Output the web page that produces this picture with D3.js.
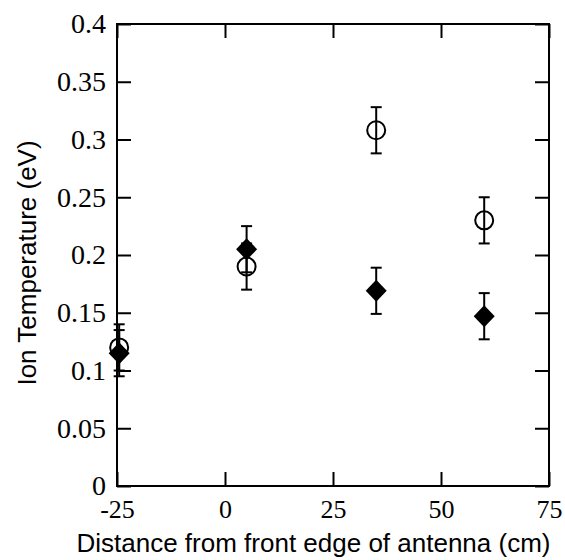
<!DOCTYPE html>
<html><head><meta charset="utf-8">
<script src="https://cdn.jsdelivr.net/npm/d3@7"></script>
<style>body{margin:0;background:#fff}svg{display:block}</style>
</head><body>
<svg id="chart" width="565" height="560"></svg>
<script>
const xTicks = [-25, 0, 25, 50, 75];
const xTickLabels = ["-25", "0", "25", "50", "75"];
const yTicks = [0, 0.05, 0.1, 0.15, 0.2, 0.25, 0.3, 0.35, 0.4];
const yTickLabels = ["0", "0.05", "0.1", "0.15", "0.2", "0.25", "0.3", "0.35", "0.4"];
const circleX = [-24.5, 5, 35, 60];
const circleY = [0.12, 0.19, 0.308, 0.23];
const circleErr = [0.02, 0.02, 0.02, 0.02];
const diamondX = [-24.5, 5, 35, 60];
const diamondY = [0.115, 0.205, 0.169, 0.147];
const diamondErr = [0.02, 0.02, 0.02, 0.02];

const svg = d3.select("#chart");
const L = 117, R = 549, T = 24, B = 486;
const x = d3.scaleLinear().domain([-25, 75]).range([L, R]);
const y = d3.scaleLinear().domain([0, 0.4]).range([B, T]);
const serif = "'Liberation Serif','Times New Roman',serif";
const sans = "'Liberation Sans',Arial,sans-serif";

// frame
svg.append("rect").attr("x", L).attr("y", T).attr("width", R - L).attr("height", B - T)
  .attr("fill", "none").attr("stroke", "#000").attr("stroke-width", 2);

const tl = 14;
const fmtX = d => xTickLabels[xTicks.indexOf(d)];
const fmtY = d => yTickLabels[yTicks.indexOf(d)];
const axB = d3.axisBottom(x).tickValues(xTicks).tickSizeInner(-tl).tickSizeOuter(0).tickPadding(14).tickFormat(fmtX);
const axT = d3.axisTop(x).tickValues(xTicks).tickSizeInner(-tl).tickSizeOuter(0).tickFormat("");
const axL = d3.axisLeft(y).tickValues(yTicks).tickSizeInner(-tl).tickSizeOuter(0).tickPadding(11).tickFormat(fmtY);
const axR = d3.axisRight(y).tickValues(yTicks).tickSizeInner(-tl).tickSizeOuter(0).tickFormat("");

function style(size) {
  return g => {
    g.select(".domain").remove();
    g.selectAll(".tick line").attr("stroke", "#000").attr("stroke-width", 2);
    g.selectAll(".tick text").attr("fill", "#000").style("font-family", serif).style("font-size", size + "px");
  };
}
svg.append("g").attr("transform", `translate(0,${B})`).call(axB).call(style(26));
svg.append("g").attr("transform", `translate(0,${T})`).call(axT).call(style(26));
svg.append("g").attr("transform", `translate(${L},0)`).call(axL).call(style(28));
svg.append("g").attr("transform", `translate(${R},0)`).call(axR).call(style(28));

// error bars
function errBars(xs, ys, es) {
  const g = svg.append("g").attr("stroke", "#000").attr("stroke-width", 2);
  xs.forEach((xv, i) => {
    const cx = x(xv), y1 = y(ys[i] + es[i]), y2 = y(ys[i] - es[i]);
    g.append("line").attr("x1", cx).attr("x2", cx).attr("y1", y1).attr("y2", y2);
    g.append("line").attr("x1", cx - 5.5).attr("x2", cx + 5.5).attr("y1", y1).attr("y2", y1);
    g.append("line").attr("x1", cx - 5.5).attr("x2", cx + 5.5).attr("y1", y2).attr("y2", y2);
  });
}
errBars(circleX, circleY, circleErr);
errBars(diamondX, diamondY, diamondErr);

svg.append("g").selectAll("circle").data(circleX).join("circle")
  .attr("cx", d => x(d)).attr("cy", (d, i) => y(circleY[i])).attr("r", 9)
  .attr("fill", "none").attr("stroke", "#000").attr("stroke-width", 2);

svg.append("g").selectAll("path").data(diamondX).join("path")
  .attr("transform", (d, i) => `translate(${x(d)},${y(diamondY[i])})`)
  .attr("d", "M0,-11L10.5,0L0,11L-10.5,0Z").attr("fill", "#000");

svg.append("text").attr("x", 313.5).attr("y", 552).attr("text-anchor", "middle")
  .style("font-family", sans).style("font-size", "26px").text("Distance from front edge of antenna (cm)");
svg.append("text").attr("transform", "translate(36,263) rotate(-90)").attr("text-anchor", "middle")
  .style("font-family", sans).style("font-size", "26px").text("Ion Temperature (eV)");
</script>
</body></html>
